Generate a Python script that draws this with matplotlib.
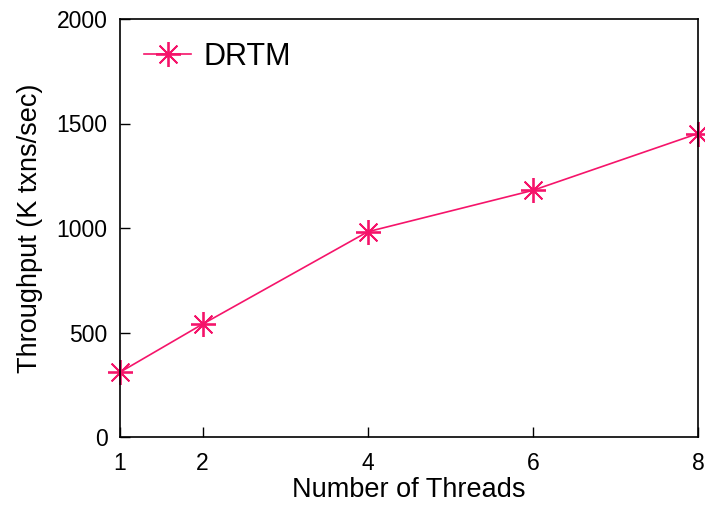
import matplotlib
matplotlib.use("Agg")
import matplotlib.pyplot as plt

# ── Data ──────────────────────────────────────────────────────────────────────
threads    = [1, 2, 4, 6, 8]
throughput = [310, 540, 982, 1180, 1452]   # K txns/sec
series     = "DRTM"

PINK = "#f5146a"

plt.rcParams["font.family"] = ["Liberation Sans", "DejaVu Sans"]

fig = plt.figure(figsize=(7.05, 5.05), dpi=100)
ax = fig.add_axes([120 / 705, 68 / 505, 578 / 705, 418 / 505])

ax.plot(threads, throughput, color=PINK, linewidth=1.2,
        marker=(8, 2, 0), markersize=18, markeredgewidth=1.3,
        markeredgecolor=PINK, clip_on=False, label=series)

ax.set_xlim(1, 8)
ax.set_ylim(0, 2000)
ax.set_xticks([1, 2, 4, 6, 8])
ax.set_yticks([0, 500, 1000, 1500, 2000])

for s in ax.spines.values():
    s.set_linewidth(1.2)
ax.tick_params(direction="in", length=7, width=1.0, labelsize=16.5,
               top=False, right=False)
ax.tick_params(axis="x", pad=10.5)
ax.tick_params(axis="y", pad=9)

ax.set_xlabel("Number of Threads", fontsize=19.5, labelpad=2)
ax.set_ylabel("Throughput (K txns/sec)", fontsize=19.5, labelpad=10)

ax.legend(loc="center left", bbox_to_anchor=(0.0415, 0.91), frameon=False,
          fontsize=22, handlelength=1.55, handletextpad=0.4,
          borderpad=0, borderaxespad=0)

fig.savefig("out.png", dpi=100)
